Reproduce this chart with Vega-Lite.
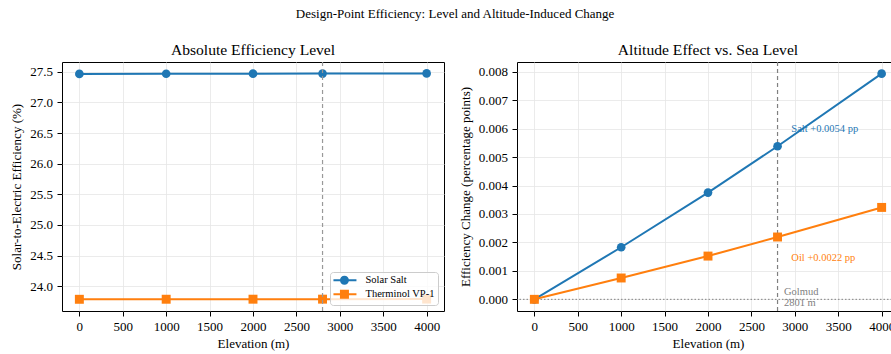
{
  "$schema": "https://vega.github.io/schema/vega-lite/v6.json",
  "background": "white",
  "padding": {"left": 10, "top": 8, "right": 0, "bottom": 4},
  "title": {"text": "Design-Point Efficiency: Level and Altitude-Induced Change", "font": "Liberation Serif", "fontSize": 13, "fontWeight": "normal", "anchor": "middle", "offset": 21, "color": "black"},
  "bounds": "flush",
  "spacing": 73,
  "resolve": {"scale": {"color": "independent", "shape": "independent"}, "legend": {"color": "independent", "shape": "independent"}},
  "config": {
    "font": "Liberation Serif",
    "view": {"stroke": "black", "strokeWidth": 1},
    "axis": {"labelFont": "Liberation Serif", "titleFont": "Liberation Serif", "labelFontSize": 13, "titleFontSize": 13, "titleFontWeight": "normal", "labelColor": "black", "titleColor": "black", "gridColor": "#e6e6e6", "gridWidth": 0.8, "domain": false, "tickColor": "black", "tickSize": 5, "labelPadding": 4.5, "labelOverlap": false},
    "title": {"font": "Liberation Serif", "fontSize": 15.6, "fontWeight": "normal", "color": "black", "offset": 3}
  },
  "datasets": {
    "perf": [
      {"elev": 0, "fluid": "Solar Salt", "eff": 27.464, "delta": 0.0},
      {"elev": 1000, "fluid": "Solar Salt", "eff": 27.4658, "delta": 0.00183},
      {"elev": 2000, "fluid": "Solar Salt", "eff": 27.4678, "delta": 0.00375},
      {"elev": 2801, "fluid": "Solar Salt", "eff": 27.4694, "delta": 0.00538},
      {"elev": 4000, "fluid": "Solar Salt", "eff": 27.4719, "delta": 0.00793},
      {"elev": 0, "fluid": "Therminol VP-1", "eff": 23.788, "delta": 0.0},
      {"elev": 1000, "fluid": "Therminol VP-1", "eff": 23.7888, "delta": 0.00075},
      {"elev": 2000, "fluid": "Therminol VP-1", "eff": 23.7895, "delta": 0.00152},
      {"elev": 2801, "fluid": "Therminol VP-1", "eff": 23.7902, "delta": 0.00219},
      {"elev": 4000, "fluid": "Therminol VP-1", "eff": 23.7912, "delta": 0.00323}
    ]
  },
  "hconcat": [
    {
      "width": 382,
      "height": 249,
      "title": "Absolute Efficiency Level",
      "encoding": {
        "x": {"field": "elev", "type": "quantitative", "scale": {"domain": [-200, 4200], "nice": false, "zero": false}, "axis": {"title": "Elevation (m)", "values": [0, 500, 1000, 1500, 2000, 2500, 3000, 3500, 4000], "format": "d", "titlePadding": 4}},
        "y": {"field": "eff", "type": "quantitative", "scale": {"domain": [23.597, 27.658], "nice": false, "zero": false}, "axis": {"title": "Solar-to-Electric Efficiency (%)", "values": [24.0, 24.5, 25.0, 25.5, 26.0, 26.5, 27.0, 27.5], "format": ".1f", "titlePadding": 6}}
      },
      "layer": [
        {
          "data": {"name": "perf"},
          "transform": [{"filter": "datum.fluid === 'Solar Salt'"}],
          "mark": {"type": "line", "strokeWidth": 2, "color": "#1f77b4"}
        },
        {
          "data": {"name": "perf"},
          "transform": [{"filter": "datum.fluid === 'Therminol VP-1'"}],
          "mark": {"type": "line", "strokeWidth": 2, "color": "#ff7f0e"}
        },
        {
          "data": {"name": "perf"},
          "transform": [{"filter": "datum.fluid === 'Solar Salt'"}],
          "mark": {"type": "point", "filled": true, "opacity": 1, "size": 75, "shape": "circle", "color": "#1f77b4"}
        },
        {
          "data": {"name": "perf"},
          "transform": [{"filter": "datum.fluid === 'Therminol VP-1'"}],
          "mark": {"type": "point", "filled": true, "opacity": 1, "size": 80, "shape": "square", "color": "#ff7f0e"}
        },
        {
          "data": {"values": [{"site": 2801}]},
          "mark": {"type": "rule", "color": "#999999", "strokeDash": [4, 3], "strokeWidth": 1.2},
          "encoding": {"x": {"field": "site", "type": "quantitative"}, "y": null}
        },
        {
          "data": {"name": "perf"},
          "mark": {"type": "point", "filled": true, "opacity": 0},
          "encoding": {
            "color": {"field": "fluid", "type": "nominal", "scale": {"domain": ["Solar Salt", "Therminol VP-1"], "range": ["#1f77b4", "#ff7f0e"]},
              "legend": {"orient": "bottom-right", "offset": 6, "title": null, "fillColor": "rgba(255,255,255,0.8)", "strokeColor": "#cccccc", "cornerRadius": 3, "padding": 3, "labelFont": "Liberation Serif", "labelFontSize": 10.5, "labelColor": "black", "symbolSize": 64, "symbolOpacity": 1, "labelOffset": 22, "rowPadding": -2}},
            "shape": {"field": "fluid", "type": "nominal", "scale": {"domain": ["Solar Salt", "Therminol VP-1"], "range": ["M-1.2,-0.25H4.55V0.25H-1.2ZM2.675,0A1.125,1.125,0,1,1,0.425,0A1.125,1.125,0,1,1,2.675,0Z", "M-1.2,-0.25H4.55V0.25H-1.2ZM0.425,-1.125H2.675V1.125H0.425Z"]},
              "legend": {"orient": "bottom-right", "offset": 6, "title": null, "fillColor": "rgba(255,255,255,0.8)", "strokeColor": "#cccccc", "cornerRadius": 3, "padding": 3, "labelFont": "Liberation Serif", "labelFontSize": 10.5, "labelColor": "black", "symbolSize": 64, "symbolOpacity": 1, "labelOffset": 22, "rowPadding": -2}}
          }
        }
      ]
    },
    {
      "width": 382,
      "height": 249,
      "title": "Altitude Effect vs. Sea Level",
      "encoding": {
        "x": {"field": "elev", "type": "quantitative", "scale": {"domain": [-200, 4200], "nice": false, "zero": false}, "axis": {"title": "Elevation (m)", "values": [0, 500, 1000, 1500, 2000, 2500, 3000, 3500, 4000], "format": "d", "titlePadding": 4}},
        "y": {"field": "delta", "type": "quantitative", "scale": {"domain": [-0.00041, 0.00834], "nice": false, "zero": false}, "axis": {"title": "Efficiency Change (percentage points)", "values": [0, 0.001, 0.002, 0.003, 0.004, 0.005, 0.006, 0.007, 0.008], "format": ".3f", "titlePadding": 6}}
      },
      "layer": [
        {
          "data": {"values": [{"zero": 0}]},
          "mark": {"type": "rule", "color": "#777777", "strokeDash": [1.5, 2], "strokeWidth": 0.9},
          "encoding": {"y": {"field": "zero", "type": "quantitative"}, "x": null}
        },
        {
          "data": {"values": [{"site": 2801}]},
          "mark": {"type": "rule", "color": "#808080", "strokeDash": [4, 3], "strokeWidth": 1.2},
          "encoding": {"x": {"field": "site", "type": "quantitative"}, "y": null}
        },
        {
          "data": {"name": "perf"},
          "transform": [{"filter": "datum.fluid === 'Solar Salt'"}],
          "mark": {"type": "line", "strokeWidth": 2, "color": "#1f77b4"}
        },
        {
          "data": {"name": "perf"},
          "transform": [{"filter": "datum.fluid === 'Therminol VP-1'"}],
          "mark": {"type": "line", "strokeWidth": 2, "color": "#ff7f0e"}
        },
        {
          "data": {"name": "perf"},
          "transform": [{"filter": "datum.fluid === 'Solar Salt'"}],
          "mark": {"type": "point", "filled": true, "opacity": 1, "size": 75, "shape": "circle", "color": "#1f77b4"}
        },
        {
          "data": {"name": "perf"},
          "transform": [{"filter": "datum.fluid === 'Therminol VP-1'"}],
          "mark": {"type": "point", "filled": true, "opacity": 1, "size": 80, "shape": "square", "color": "#ff7f0e"}
        },
        {
          "data": {"values": [{"ax": 2960, "ay": 0.00599, "label": "Salt +0.0054 pp"}]},
          "mark": {"type": "text", "align": "left", "baseline": "middle", "font": "Liberation Serif", "fontSize": 10.5, "color": "#1f77b4"},
          "encoding": {"x": {"field": "ax", "type": "quantitative"}, "y": {"field": "ay", "type": "quantitative"}, "text": {"field": "label"}}
        },
        {
          "data": {"values": [{"ax": 2960, "ay": 0.00146, "label": "Oil +0.0022 pp"}]},
          "mark": {"type": "text", "align": "left", "baseline": "middle", "font": "Liberation Serif", "fontSize": 10.5, "color": "#ff7f0e"},
          "encoding": {"x": {"field": "ax", "type": "quantitative"}, "y": {"field": "ay", "type": "quantitative"}, "text": {"field": "label"}}
        },
        {
          "data": {"values": [{"ax": 2875, "ay": 0.00025, "label": "Golmud"}, {"ax": 2875, "ay": -0.00014, "label": "2801 m"}]},
          "mark": {"type": "text", "align": "left", "baseline": "middle", "font": "Liberation Serif", "fontSize": 10.5, "color": "#808080"},
          "encoding": {"x": {"field": "ax", "type": "quantitative"}, "y": {"field": "ay", "type": "quantitative"}, "text": {"field": "label"}}
        }
      ]
    }
  ]
}
